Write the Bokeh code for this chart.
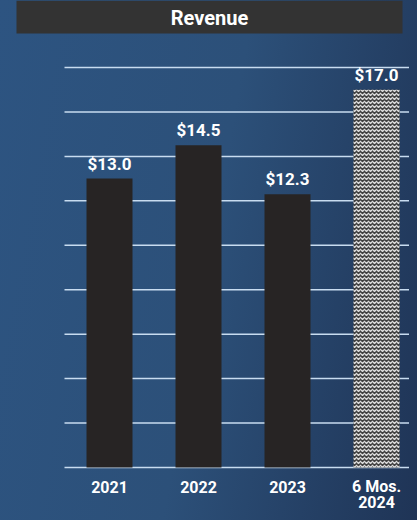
from bokeh.plotting import figure
from bokeh.models import ColumnDataSource, Range1d, GlobalInlineStyleSheet
from bokeh.core.properties import value
from bokeh.embed import file_html
from bokeh.resources import INLINE

# ---- data ----
categories = ["2021", "2022", "2023", "6 Mos.\n2024"]
revenue = [13.0, 14.5, 12.3, 17.0]
labels = ["$13.0", "$14.5", "$12.3", "$17.0"]
grid_ticks = [0, 2, 4, 6, 8, 10, 12, 14, 16, 18]
title_text = "Revenue"

# ---- layout helpers (pixel geometry of the figure) ----
FW, FH = 409, 512
X0, DX = 109, 89          # px centre of first category, px per category
Y0, DY = 467, 400 / 18    # px of baseline, px per unit


def xd(px):
    return (px - X0) / DX


def yd(py):
    return (Y0 - py) / DY


idx = list(range(len(categories)))
gradient = "linear-gradient(100deg, #2d5481 0%, #2c5079 50%, #1f3456 100%)"

p = figure(width=FW, height=FH, x_range=Range1d(xd(0), xd(FW)), y_range=Range1d(yd(FH), yd(0)),
           output_backend="svg", toolbar_location=None,
           x_axis_location=None, y_axis_location=None,
           min_border_left=0, min_border_right=0, min_border_top=0, min_border_bottom=0,
           stylesheets=[GlobalInlineStyleSheet(css="html, body { background: " + gradient + "; }")])
p.background_fill_color = None
p.border_fill_color = None
p.outline_line_color = None
p.grid.visible = False

# title box
p.quad(left=[xd(16)], right=[xd(402)], top=[yd(0)], bottom=[yd(33)],
       fill_color="#333333", line_color=None)
p.text(x=[xd(209)], y=[yd(17)], text=[title_text], text_align="center", text_baseline="middle",
       text_color="white", text_font=value("Roboto"), text_font_style="bold", text_font_size="20px")

# horizontal grid lines
grid = ColumnDataSource(dict(y=grid_ticks))
p.segment(x0=xd(64), x1=xd(FW), y0="y", y1="y", source=grid, line_color="#c8dcf0", line_width=1.5)

# bars
solid = ColumnDataSource(dict(x=idx[:3], top=revenue[:3]))
partial = ColumnDataSource(dict(x=idx[3:], top=revenue[3:]))
bw = 46 / DX
p.vbar(x="x", top="top", bottom=0, width=bw, source=solid, fill_color="#272424", line_color=None)
p.vbar(x="x", top="top", bottom=0, width=bw, source=partial, fill_color="#404040", line_color=None,
       hatch_pattern="horizontal_wave", hatch_color="#dcdcdc", hatch_scale=4, hatch_weight=1.3)

# value labels
lab = ColumnDataSource(dict(x=idx, y=revenue, t=labels))
p.text(x="x", y="y", text="t", source=lab, y_offset=-15, text_align="center",
       text_baseline="middle", text_color="white", text_font=value("Roboto"),
       text_font_style="bold", text_font_size="17px")

# category labels (one text per line)
line1 = [c.split("\n")[0] for c in categories]
line2 = [c.split("\n")[1] if "\n" in c else "" for c in categories]
cat1 = ColumnDataSource(dict(x=idx, y=[0] * len(idx), t=line1))
cat2 = ColumnDataSource(dict(x=idx, y=[0] * len(idx), t=line2))
for src, off in ((cat1, 19), (cat2, 34)):
    p.text(x="x", y="y", text="t", source=src, y_offset=off, text_align="center",
           text_baseline="middle", text_color="white", text_font=value("Roboto"),
           text_font_style="bold", text_font_size="16px")

open("out.html", "w").write(file_html(p, INLINE))
